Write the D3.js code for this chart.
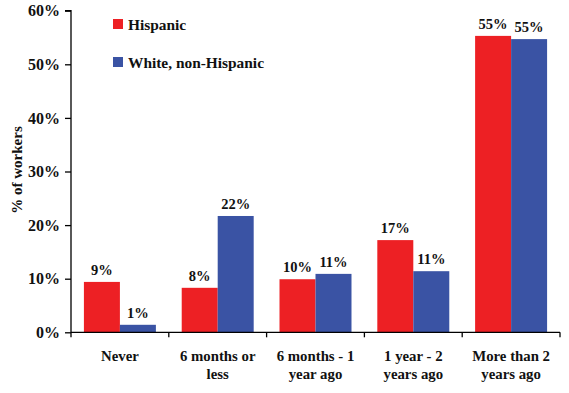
<!DOCTYPE html>
<html><head><meta charset="utf-8">
<script src="https://cdn.jsdelivr.net/npm/d3@7"></script>
<style>
body{margin:0;background:#fff;}
text{font-family:"Liberation Serif","Times New Roman",serif;font-weight:bold;fill:#111;}
</style></head>
<body>
<svg id="chart" width="569" height="393"></svg>
<script>
const categories = [["Never"],["6 months or","less"],["6 months - 1","year ago"],["1 year - 2","years ago"],["More than 2","years ago"]];
const seriesNames = ["Hispanic","White, non-Hispanic"];
const hispanic = [9.4, 8.3, 9.9, 17.2, 55.3];
const white = [1.4, 21.7, 10.9, 11.4, 54.7];
const hispanicLabels = ["9%","8%","10%","17%","55%"];
const whiteLabels = ["1%","22%","11%","11%","55%"];
const yTicks = [0,10,20,30,40,50,60];
const colors = ["#ED2024","#3A53A4"];

const svg = d3.select("#chart");
const mLeft = 71, mRight = 560, mTop = 10.7, mBottom = 332.3;
const y = d3.scaleLinear().domain([0,60]).range([mBottom, mTop]);
const x0 = d3.scaleBand().domain(d3.range(categories.length)).range([mLeft,mRight]).paddingInner(0.264).paddingOuter(0.132);
const x1 = d3.scaleBand().domain([0,1]).range([0, x0.bandwidth()]);
const series = [hispanic, white];
const labels = [hispanicLabels, whiteLabels];

// bars
series.forEach((vals, s) => {
  svg.append("g").selectAll("rect").data(vals).join("rect")
    .attr("x", (d,i) => x0(i) + x1(s))
    .attr("width", x1.bandwidth())
    .attr("y", d => y(d))
    .attr("height", d => y(0) - y(d))
    .attr("fill", colors[s]);
  svg.append("g").selectAll("text").data(vals).join("text")
    .attr("x", (d,i) => x0(i) + x1(s) + x1.bandwidth()/2)
    .attr("y", d => y(d) - 7)
    .attr("text-anchor","middle")
    .attr("font-size", 14.5)
    .text((d,i) => labels[s][i]);
});

// y axis
const yAxis = svg.append("g").attr("transform", `translate(${mLeft},0)`)
  .call(d3.axisLeft(y).tickValues(yTicks).tickFormat(d => d + "%").tickSize(6).tickPadding(5));
yAxis.select(".domain").attr("stroke","#000").attr("stroke-width",1.3).attr("d", `M-6,${y(60)}H0V${y(0)}`);
yAxis.selectAll(".tick line").attr("stroke","#000").attr("stroke-width",1.3);
yAxis.selectAll(".tick text").attr("font-size",16).attr("font-family","Liberation Serif").attr("font-weight","bold").attr("fill","#111");

// x axis
const bounds = d3.range(categories.length + 1).map(i => mLeft + i * x0.step());
svg.append("line").attr("x1", mLeft).attr("x2", mRight).attr("y1", mBottom).attr("y2", mBottom)
  .attr("stroke","#000").attr("stroke-width",1.3);
svg.append("g").selectAll("line").data(bounds).join("line")
  .attr("x1", d => d).attr("x2", d => d).attr("y1", mBottom).attr("y2", mBottom + 5)
  .attr("stroke","#000").attr("stroke-width",1.3);
const cat = svg.append("g").selectAll("text").data(categories).join("text")
  .attr("text-anchor","middle").attr("font-size",14.8)
  .attr("transform", (d,i) => `translate(${x0(i) + x0.bandwidth()/2},0)`);
cat.selectAll("tspan").data(d => d).join("tspan")
  .attr("x", 0).attr("y", (d,j) => 361 + j*17.5).text(d => d);

// y title
svg.append("text").attr("transform", "translate(22,170) rotate(-90)")
  .attr("text-anchor","middle").attr("font-size",15).text("% of workers");

// legend
const leg = svg.append("g").selectAll("g").data(seriesNames).join("g")
  .attr("transform", (d,i) => `translate(113,${19 + i*38})`);
leg.append("rect").attr("width",10).attr("height",10).attr("fill",(d,i)=>colors[i]);
leg.append("text").attr("x",15).attr("y",10.5).attr("font-size",15.4).text(d => d);
</script>
</body></html>
